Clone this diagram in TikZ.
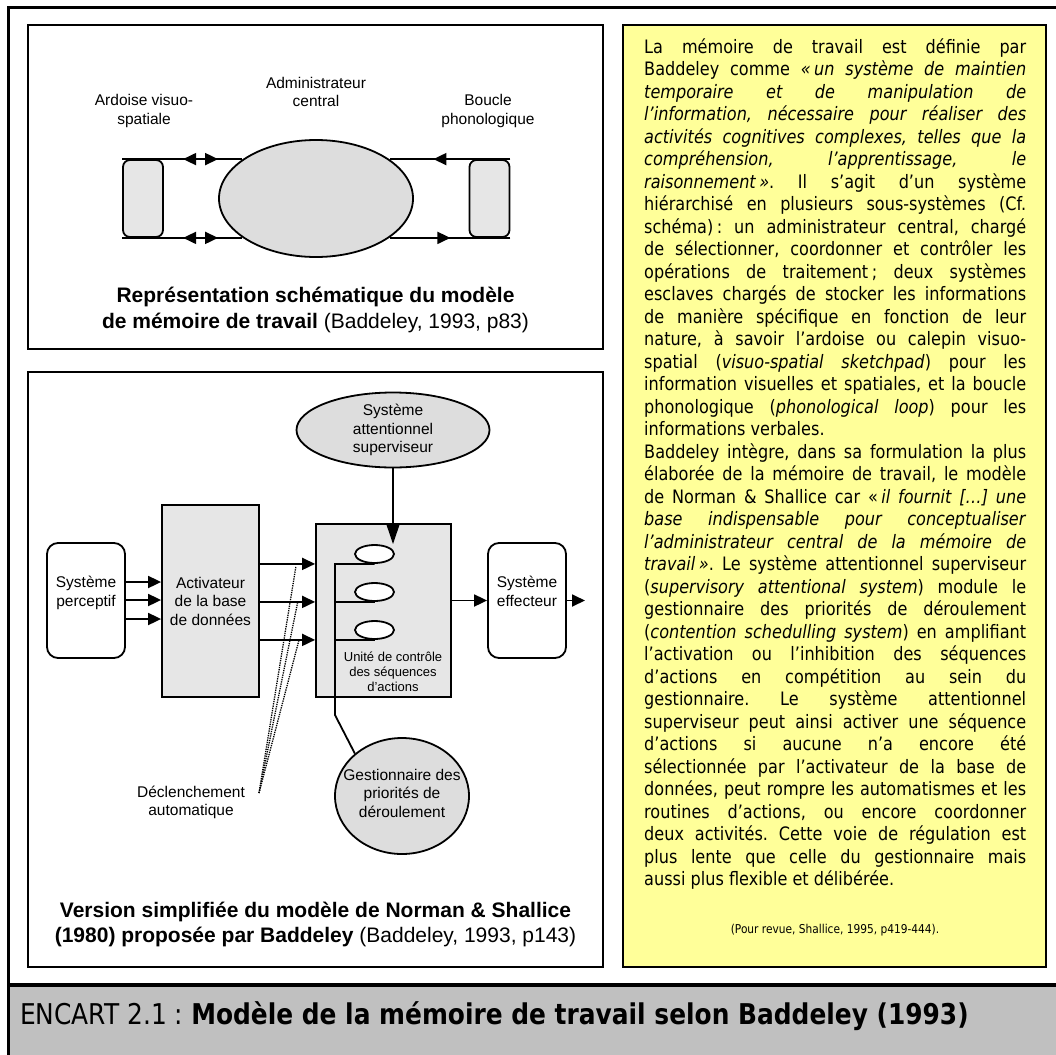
\documentclass[tikz,border=0pt]{standalone}
\usepackage{fontspec}
\setmainfont{Liberation Sans}
\newfontfamily\tahoma[FakeStretch=0.87]{DejaVu Sans}
\usetikzlibrary{shapes.geometric,arrows.meta,decorations.markings}
\definecolor{lightbox}{HTML}{E6E6E6}
\definecolor{darkoval}{HTML}{DDDDDD}
\definecolor{notepaper}{HTML}{FFFF99}
\definecolor{bandgray}{HTML}{C0C0C0}
\newlength\notew
\setlength\notew{382pt}
\newcommand\jline[1]{\hbox to \notew{#1}}
\newcommand\lastline[1]{\hbox to \notew{#1\hfil}}
\newcommand\fsp{\kern3.5pt}
\frenchspacing

\begin{document}
\begin{tikzpicture}[x=1pt,y=-1pt,
    tri/.tip={Triangle[length=13pt,width=12pt]},
    lbl/.style={align=center,font=\fontsize{15.5}{18.5}\selectfont},
    capt/.style={align=center,font=\fontsize{21}{25.5}\selectfont},
    panel/.style={line width=2pt},
    link/.style={line width=1.8pt},
    arr/.style={line width=1.8pt,-tri},
    store/.style={draw,line width=1.8pt,rounded corners=7pt,fill=lightbox,minimum width=40pt,minimum height=77pt},
    oval/.style={draw,ellipse,line width=1.8pt,fill=darkoval},
    block/.style={draw,line width=1.8pt,fill=lightbox},
    sys/.style={draw,line width=1.8pt,rounded corners=11pt,fill=white,minimum width=78pt,minimum height=115pt,align=center,font=\fontsize{15.5}{18.5}\selectfont},
    dbl/.style={postaction=decorate,decoration={markings,
        mark=at position 61pt with {\arrowreversed{tri}},
        mark=at position 96pt with {\arrow{tri}}}},
    fwd/.style={postaction=decorate,decoration={markings,mark=at position #1 with {\arrow{tri}}}},
    bwd/.style={postaction=decorate,decoration={markings,mark=at position #1 with {\arrowreversed{tri}}}},
    trigger/.style={densely dotted,line width=1.3pt}]
\tikzstyle{every node}+=[inner sep=0pt]
\useasboundingbox (0,0) rectangle (1056,1054);

% frame and banner
\fill[bandgray] (9,985) rectangle (1060,1060);
\draw[line width=4pt] (9,985) -- (1060,985);
\draw[line width=3pt] (8.8,1060) -- (8.8,7.5) -- (1060,7.5);
\draw[panel] (28,25) rectangle (603,349);
\draw[panel] (28,372) rectangle (603,967);
\draw[panel,fill=notepaper] (623,25) rectangle (1046,967);
\node[anchor=west,font=\tahoma\fontsize{28.6}{32}\selectfont] (title) at (20,1016) {ENCART 2.1 : \textbf{Modèle de la mémoire de travail selon Baddeley (1993)}};

% top diagram
\node[oval,minimum width=194pt,minimum height=117pt] (admin) at (316,198.5) {};
\node[store] (ardoise) at (143,198.5) {};
\node[store] (boucle) at (489.5,198.5) {};
\node[lbl] (ardlbl) at (144,111) {Ardoise visuo-\\spatiale};
\node[lbl] (adminlbl) at (316,92) {Administrateur\\central};
\node[lbl] (bouclelbl) at (488,111) {Boucle\\phonologique};
\draw[link,dbl] (ardoise.north west) -- (ardoise.north west -| admin.152);
\draw[link,dbl] (ardoise.south west) -- (ardoise.south west -| admin.-152);
\draw[link,fwd=77pt] (boucle.north east) -- (boucle.north east -| admin.28);
\draw[link,bwd=60pt] (boucle.south east) -- (boucle.south east -| admin.-28);
\node[capt] (cap1) at (315.5,310) {\textbf{Représentation schématique du modèle}\\\textbf{de mémoire de travail} (Baddeley, 1993, p83)};

% bottom diagram
\node[oval,minimum width=193pt,minimum height=75pt] (sas) at (393,430) {};
\node[lbl] (saslbl) at (sas) {Système\\attentionnel\\superviseur};
\node[sys] (perc) at (86,600.5) {Système\\perceptif\\ \mbox{}};
\node[block,minimum width=97pt,minimum height=192pt,lbl] (act) at (210.5,601) {Activateur\\de la base\\de données};
\node[block,minimum width=135pt,minimum height=173pt] (ctrl) at (383.5,610.5) {};
\node[align=center,font=\fontsize{13}{15}\selectfont] (ctrllbl) at (393,672) {Unité de contrôle\\des séquences\\d'actions};
\node[oval,fill=white,minimum width=39pt,minimum height=18pt] (o1) at (374.5,554) {};
\node[oval,fill=white,minimum width=39pt,minimum height=18pt] (o2) at (374.5,592) {};
\node[oval,fill=white,minimum width=39pt,minimum height=18pt] (o3) at (374.5,630) {};
\node[sys] (eff) at (527,600.5) {Système\\effecteur\\ \mbox{}};
\node[oval,minimum width=134pt,minimum height=116pt] (gest) at (402,796) {};
\node[lbl] (gestlbl) at (402,793) {Gestionnaire des\\priorités de\\déroulement};
\node[lbl] (decl) at (191,802.5) {Déclenchement\\automatique};
\coordinate (trunk) at (335,715);
\coordinate (out) at (585,600.5);
\coordinate (trig) at (259,793);
\coordinate (d1) at (296,566);
\coordinate (d2) at (297.5,603);
\coordinate (d3) at (299,640);
\foreach \y in {582,600,619}
    \draw[arr] (perc.east |- 0,\y) -- (act.west |- 0,\y);
\foreach \o in {o1,o2,o3}
    \draw[arr] (act.east |- \o.south) -- (ctrl.west |- \o.south);
\draw[line width=1.8pt,-{Triangle[length=20pt,width=13pt]}] (sas.south) -- (sas.south |- o1.north);
\draw[arr] (ctrl.east |- eff) -- (eff.west);
\draw[arr] (eff.east) -- (out);
\draw[link] (o1.south) -| (trunk) -- (gest.138);
\draw[link] (o2.south) -- (o2.south -| trunk);
\draw[link] (o3.south) -- (o3.south -| trunk);
\foreach \e in {d1,d2,d3}
    \draw[trigger] (trig) -- (\e);
\node[capt] (cap2) at (315.5,924.5) {\textbf{Version simplifiée du modèle de Norman \& Shallice}\\\textbf{(1980) proposée par Baddeley} (Baddeley, 1993, p143)};

% note
\node[anchor=north west,font=\tahoma\fontsize{18.5}{22.5}\selectfont] (notetext) at (644,38) {\vbox{%
\jline{La mémoire de travail est définie par}
\jline{Baddeley comme \textit{«\fsp un système de maintien}}
\jline{\textit{temporaire et de manipulation de}}
\jline{\textit{l’information, nécessaire pour réaliser des}}
\jline{\textit{activités cognitives complexes, telles que la}}
\jline{\textit{compréhension, l’apprentissage, le}}
\jline{\textit{raisonnement\fsp »}. Il s’agit d’un système}
\jline{hiérarchisé en plusieurs sous-systèmes (Cf.}
\jline{schéma)\fsp : un administrateur central, chargé}
\jline{de sélectionner, coordonner et contrôler les}
\jline{opérations de traitement\fsp ; deux systèmes}
\jline{esclaves chargés de stocker les informations}
\jline{de manière spécifique en fonction de leur}
\jline{nature, à savoir l’ardoise ou calepin visuo-}
\jline{spatial (\textit{visuo-spatial sketchpad}) pour les}
\jline{information visuelles et spatiales, et la boucle}
\jline{phonologique (\textit{phonological loop}) pour les}
\lastline{informations verbales.}
\jline{Baddeley intègre, dans sa formulation la plus}
\jline{élaborée de la mémoire de travail, le modèle}
\jline{de Norman \& Shallice car «\fsp\textit{il fournit […] une}}
\jline{\textit{base indispensable pour conceptualiser}}
\jline{\textit{l’administrateur central de la mémoire de}}
\jline{\textit{travail\fsp »}. Le système attentionnel superviseur}
\jline{(\textit{supervisory attentional system}) module le}
\jline{gestionnaire des priorités de déroulement}
\jline{(\textit{contention schedulling system}) en amplifiant}
\jline{l’activation ou l’inhibition des séquences}
\jline{d’actions en compétition au sein du}
\jline{gestionnaire. Le système attentionnel}
\jline{superviseur peut ainsi activer une séquence}
\jline{d’actions si aucune n’a encore été}
\jline{sélectionnée par l’activateur de la base de}
\jline{données, peut rompre les automatismes et les}
\jline{routines d’actions, ou encore coordonner}
\jline{deux activités. Cette voie de régulation est}
\jline{plus lente que celle du gestionnaire mais}
\lastline{aussi plus flexible et délibérée.}}};
\node[font=\tahoma\fontsize{12.2}{14}\selectfont] (source) at (835,930) {(Pour revue, Shallice, 1995, p419-444).};
\end{tikzpicture}
\end{document}
